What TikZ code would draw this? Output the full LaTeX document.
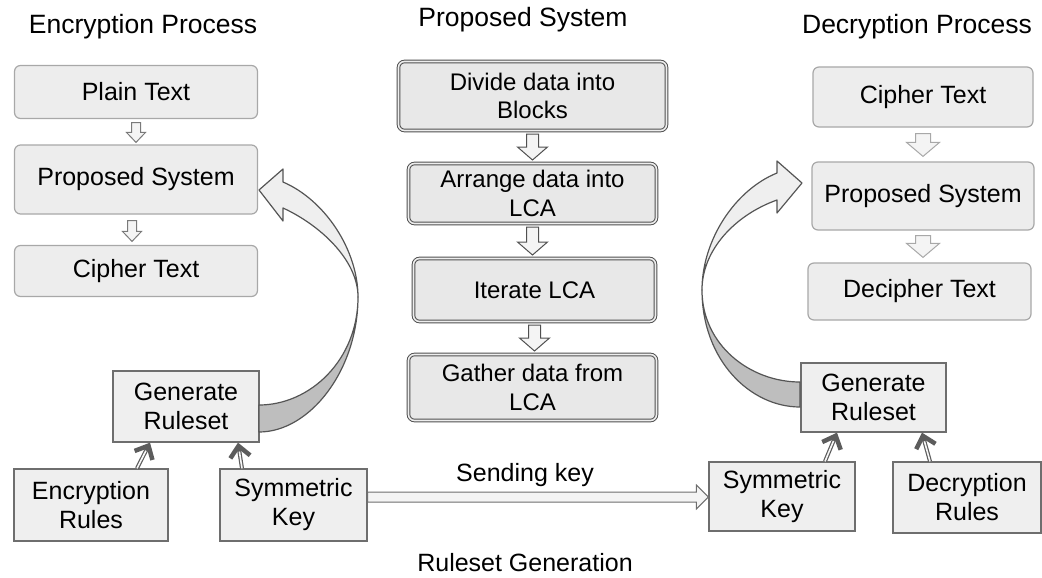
\documentclass[tikz,border=0pt]{standalone}
\usepackage{fontspec}
\setmainfont{Liberation Sans}
\usetikzlibrary{calc,arrows.meta}
\definecolor{boxgray}{HTML}{EDEDED}
\definecolor{softedge}{HTML}{A8A8A8}
\definecolor{corefill}{HTML}{E8E8E8}
\definecolor{coreedge}{HTML}{505050}
\definecolor{coregap}{HTML}{EEEEEE}
\definecolor{rulefill}{HTML}{EFEFEF}
\definecolor{ruleedge}{HTML}{6E6E6E}
\definecolor{hollowfill}{HTML}{F4F4F4}
\definecolor{hollowedge}{HTML}{7A7A7A}
\definecolor{feedgray}{HTML}{5C5C5C}
\definecolor{facelight}{HTML}{EFEFEF}
\definecolor{facedark}{HTML}{BEBEBE}
\definecolor{ribbonedge}{HTML}{555555}
\begin{document}
\begin{tikzpicture}[x=1pt,y=-1pt,
  every node/.style={font=\fontsize{25}{29}\selectfont, align=center, inner sep=0pt},
  title/.style={font=\fontsize{26.5}{30}\selectfont},
  stepbox/.style={draw=softedge, line width=1.2pt, fill=boxgray, rounded corners=6pt},
  corebox/.style={draw=coreedge, line width=1pt, double=coregap, double distance=1.6pt,
    fill=corefill, rounded corners=6pt, font=\fontsize{24}{28.5}\selectfont},
  rulebox/.style={draw=ruleedge, line width=1.3pt, fill=rulefill},
  hollow/.style={draw=hollowedge, line width=1pt, fill=hollowfill},
  ribbon/.style={draw=ribbonedge, line width=1.2pt, line join=round},
  feed/.style={draw=feedgray, line width=4pt, -{Straight Barb[length=11pt,width=20pt,line width=4.5pt]},
    postaction={draw=white!94!gray, line width=1.6pt, -, shorten >=9pt}},
  hollow down/.style n args={3}{to path={let \p1=(\tikztostart), \p2=(\tikztotarget) in
    (\x1-#1,\y1) -- (\x1+#1,\y1) -- (\x1+#1,\y2+#3) -- (\x1+#2,\y2+#3) -- (\x1,\y2)
    -- (\x1-#2,\y2+#3) -- (\x1-#1,\y2+#3) -- cycle}},
  hollow right/.style n args={3}{to path={let \p1=(\tikztostart), \p2=(\tikztotarget) in
    (\x1,\y1+#1) -- (\x2-#3,\y1+#1) -- (\x2-#3,\y1+#2) -- (\x2,\y1) -- (\x2-#3,\y1-#2)
    -- (\x2-#3,\y1-#1) -- (\x1,\y1-#1) -- cycle}}]
\useasboundingbox (0,0) rectangle (1042,578);

% column headings
\node[title] (encT) at (143,27) {Encryption Process};
\node[title] (sysT) at (523,20) {Proposed System};
\node[title] (decT) at (917,27) {Decryption Process};

% encryption side
\node[stepbox, minimum width=243pt, minimum height=53pt] (plain) at (136,92) {Plain Text};
\node[stepbox, minimum width=243pt, minimum height=69pt] (encSys) at (136,179.5) {Proposed System};
\node[stepbox, minimum width=243pt, minimum height=51pt] (encOut) at (136,271) {Cipher Text};
\draw[hollow, hollow down={4.5pt}{9.5pt}{10pt}] ([yshift=-3.5pt]plain.south) to ([yshift=2pt]encSys.north);
\draw[hollow, hollow down={4.5pt}{9.5pt}{10pt}] ([xshift=-4pt,yshift=-6pt]encSys.south) to ([yshift=3.5pt]encOut.north);

% proposed system
\node[corebox, minimum width=268pt, minimum height=69pt] (divide) at (532.5,96) {Divide data into\\Blocks};
\node[corebox, minimum width=248pt, minimum height=60pt] (arrange) at (532.5,193.5) {Arrange data into\\LCA};
\node[corebox, minimum width=242pt, minimum height=63pt] (iterate) at (534.5,290) {Iterate LCA};
\node[corebox, minimum width=248pt, minimum height=66pt] (gather) at (532.5,387.5) {Gather data from\\LCA};
\foreach \a/\b in {divide/arrange, arrange/iterate, iterate/gather}
  \draw[hollow, draw=coreedge, hollow down={6pt}{15pt}{13pt}] ([yshift=-3pt]\a.south) to ([yshift=3pt]\b.north);

% decryption side
\node[stepbox, minimum width=220pt, minimum height=60pt] (decIn) at (923,97) {Cipher Text};
\node[stepbox, minimum width=222pt, minimum height=68pt] (decSys) at (923,196) {Proposed System};
\node[stepbox, minimum width=223pt, minimum height=57pt] (decOut) at (919.5,291.5) {Decipher Text};
\draw[hollow, draw=softedge, hollow down={7.5pt}{16.5pt}{14pt}] ([yshift=-6pt]decIn.south) to ([yshift=5pt]decSys.north);
\draw[hollow, draw=softedge, hollow down={7.5pt}{16.5pt}{14pt}] ([yshift=-5pt]decSys.south) to ([yshift=5pt]decOut.north);

% ruleset generation
\node[rulebox, minimum width=146pt, minimum height=71pt] (encGen) at (186,406.5) {Generate\\Ruleset};
\node[rulebox, minimum width=154pt, minimum height=72pt] (encRules) at (91,505) {Encryption\\Rules};
\node[rulebox, minimum width=147pt, minimum height=72pt] (encKey) at (293.5,505) {Symmetric\\Key};
\node[rulebox, minimum width=145pt, minimum height=69pt] (decGen) at (873.5,397.5) {Generate\\Ruleset};
\node[rulebox, minimum width=146pt, minimum height=69pt] (decKey) at (782,496.5) {Symmetric\\Key};
\node[rulebox, minimum width=148pt, minimum height=71pt] (decRules) at (967,497.5) {Decryption\\Rules};

\draw[feed] ([xshift=46pt]encRules.north) -- ([xshift=-36pt]encGen.south);
\draw[feed] ([xshift=-51.5pt]encKey.north) -- ([xshift=52pt]encGen.south);
\draw[feed] ([xshift=43pt]decKey.north) -- ([xshift=-36.5pt]decGen.south);
\draw[feed] ([xshift=-37pt]decRules.north) -- ([xshift=48.5pt]decGen.south);

\draw[hollow, draw=ruleedge, hollow right={5pt}{12pt}{12pt}] ([yshift=8pt]encKey.east) to (decKey.west);
\node (send) at (525,475) {Sending key};
\node (rgen) at (525,563) {Ruleset Generation};

% curved arrow, encryption side
\coordinate (L1) at (259,190);
\coordinate (L2) at (283,169);
\coordinate (L3) at (283,221);
\coordinate (L4) at (283,182);
\coordinate (L5) at (283,208);
\coordinate (L6) at (358,297);
\coordinate (L7) at (259,432);
\coordinate (L8) at (259,405);
\draw[ribbon, fill=facelight] (L4) -- (L2) -- (L1) -- (L3) -- (L5)
  .. controls (320,225) and (358,260) .. (L6) .. controls (358,250) and (325,200) .. (L4) -- cycle;
\draw[ribbon, fill=facedark] (L6) .. controls (358,370) and (310,432) .. (L7) -- (L8)
  .. controls (310,405) and (358,360) .. (L6) -- cycle;

% curved arrow, decryption side
\coordinate (R1) at (802,183);
\coordinate (R2) at (777,161);
\coordinate (R3) at (777,213);
\coordinate (R4) at (777,173);
\coordinate (R5) at (777,200);
\coordinate (R6) at (702,290);
\coordinate (R7) at (800,407);
\coordinate (R8) at (800,382);
\draw[ribbon, fill=facelight] (R4) -- (R2) -- (R1) -- (R3) -- (R5)
  .. controls (735,215) and (702,250) .. (R6) .. controls (702,240) and (735,190) .. (R4) -- cycle;
\draw[ribbon, fill=facedark] (R6) .. controls (702,360) and (750,407) .. (R7) -- (R8)
  .. controls (750,382) and (702,345) .. (R6) -- cycle;
\end{tikzpicture}
\end{document}
